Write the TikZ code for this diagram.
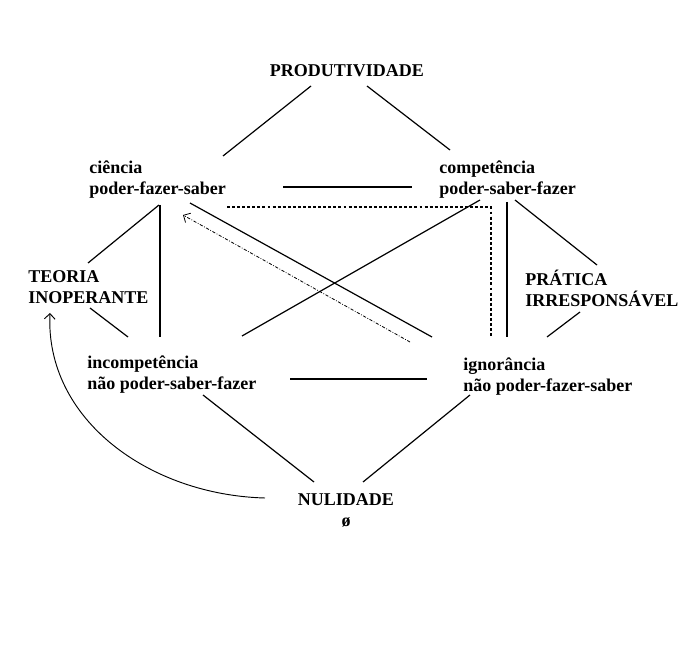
\documentclass[tikz,border=0pt]{standalone}
\usepackage{fontspec}
\setmainfont{Liberation Serif}
\usetikzlibrary{arrows.meta}

\tikzset{
  term/.style={font=\fontsize{13.5}{15.75}\selectfont\bfseries, inner sep=0pt, align=left, anchor=base west},
  link/.style={line width=0.9pt},
  dashlink/.style={line width=0.9pt, dash pattern=on 2.2pt off 1.6pt},
  dotlink/.style={line width=0.6pt, dash pattern=on 2.4pt off 1.2pt on 0.6pt off 1.2pt, -{Straight Barb[length=4pt, width=8pt]}},
  bentlink/.style={line width=0.7pt, -{Straight Barb[length=4pt, width=8pt]}},
}

\begin{document}
\begin{tikzpicture}[x=0.75pt, y=-0.75pt]
  \useasboundingbox (0,0) rectangle (679,656);
  % terms of the square (anchored at the baseline of the last line)
  \node[term, anchor=base, align=center] (prod) at (347,77) {PRODUTIVIDADE};
  \node[term] (cien) at (89,195) {ciência\\poder-fazer-saber};
  \node[term] (comp) at (439,195) {competência\\poder-saber-fazer};
  \node[term] (teoria) at (28,304) {TEORIA\\INOPERANTE};
  \node[term] (pratica) at (525,306) {PRÁTICA\\IRRESPONSÁVEL};
  \node[term] (incomp) at (87,389) {incompetência\\não poder-saber-fazer};
  \node[term] (ignor) at (463,391) {ignorância\\não poder-fazer-saber};
  \node[term, anchor=base, align=center] (nul) at (346,526) {NULIDADE\\ø};
  % top triangle
  \draw[link] ([shift={(-36,9)}]prod.base) -- ([shift={(134,-39)}]cien.base west);
  \draw[link] ([shift={(20,9)}]prod.base) -- ([shift={(11,-45)}]comp.base west);
  \draw[link] ([shift={(194,-8)}]cien.base west) -- ([shift={(-27,-8)}]comp.base west);
  % from ciencia
  \draw[link] ([shift={(70,10)}]cien.base west) -- ([shift={(60,-41)}]teoria.base west);
  \draw[link] ([shift={(71,10)}]cien.base west) -- ([shift={(73,-52)}]incomp.base west);
  \draw[link] ([shift={(101,8)}]cien.base west) -- ([shift={(-31,-54)}]ignor.base west);
  \draw[dashlink] ([shift={(138,12)}]cien.base west) -- ([shift={(52,12)}]comp.base west) -- ([shift={(28,-54)}]ignor.base west);
  \draw[dotlink] ([shift={(-53,-49)}]ignor.base west) -- ([shift={(94,20)}]cien.base west);
  % from competencia
  \draw[link] ([shift={(41,5)}]comp.base west) -- ([shift={(155,-53)}]incomp.base west);
  \draw[link] ([shift={(68,7)}]comp.base west) -- ([shift={(44,-54)}]ignor.base west);
  \draw[link] ([shift={(76,5)}]comp.base west) -- ([shift={(72,-41)}]pratica.base west);
  % sides
  \draw[link] ([shift={(62,4)}]teoria.base west) -- ([shift={(41,-52)}]incomp.base west);
  \draw[link] ([shift={(55,6)}]pratica.base west) -- ([shift={(84,-54)}]ignor.base west);
  % bottom triangle
  \draw[link] ([shift={(203,-10)}]incomp.base west) -- ([shift={(-36,-12)}]ignor.base west);
  \draw[link] ([shift={(116,6)}]incomp.base west) -- ([shift={(-32,-44)}]nul.base);
  \draw[link] ([shift={(7,4)}]ignor.base west) -- ([shift={(17,-44)}]nul.base);
  % back to teoria
  \draw[bentlink] ([shift={(-81,-28)}]nul.base) .. controls (150,495) and (45,420) .. ([shift={(22,9)}]teoria.base west);
\end{tikzpicture}
\end{document}
